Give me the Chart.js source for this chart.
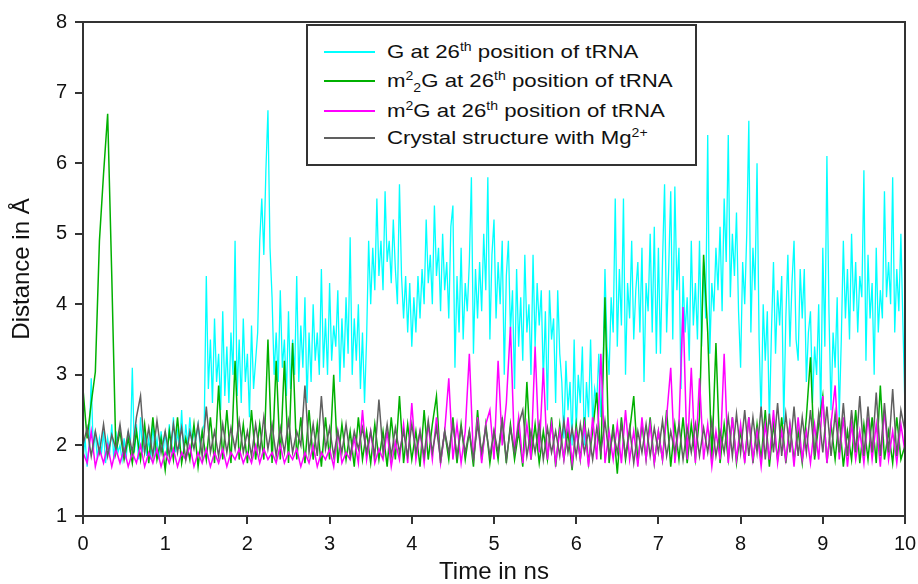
<!DOCTYPE html>
<html>
<head>
<meta charset="utf-8">
<script src="https://cdn.jsdelivr.net/npm/chart.js@4/dist/chart.umd.min.js"></script>
<style>
body { margin: 0; background: #fff; }
#wrap { position: relative; width: 918px; height: 584px; }
#legend { position: absolute; left: 306px; top: 24px; width: 387px; height: 138px; border: 2px solid #333; background: #fff; font-family: "Liberation Sans", Arial, sans-serif; font-size: 19px; color: #111; }
#legend .row { position: absolute; left: 0; height: 24px; width: 100%; }
#legend .swatch { position: absolute; left: 16px; top: 11px; width: 51px; height: 2px; }
#legend .txt { position: absolute; left: 79px; top: 0; line-height: 24px; white-space: nowrap; transform: scaleX(1.17); transform-origin: left center; }
#legend sup, #legend sub { font-size: 12px; line-height: 0; }
</style>
</head>
<body>
<div id="wrap">
<canvas id="chart" width="918" height="584"></canvas>
<div id="legend">
  <div class="row" style="top:14px"><div class="swatch" style="background:#00ffff"></div><div class="txt">G at 26<sup>th</sup> position of tRNA</div></div>
  <div class="row" style="top:43px"><div class="swatch" style="background:#00b000"></div><div class="txt">m<sup>2</sup><sub>2</sub>G at 26<sup>th</sup> position of tRNA</div></div>
  <div class="row" style="top:73px"><div class="swatch" style="background:#ff00ff"></div><div class="txt">m<sup>2</sup>G at 26<sup>th</sup> position of tRNA</div></div>
  <div class="row" style="top:100px"><div class="swatch" style="background:#606060"></div><div class="txt">Crystal structure with Mg<sup>2+</sup></div></div>
</div>
</div>
<script>
// G trace read every 0.025 ns, the other three every 0.05 ns (0 to 10 ns)
var dtFine = 0.025;
var dt = 0.05;
var xTicks = [0, 1, 2, 3, 4, 5, 6, 7, 8, 9, 10];
var yTicks = [1, 2, 3, 4, 5, 6, 7, 8];

var seriesNames = ["G at 26th position of tRNA", "m2,2G at 26th position of tRNA", "m2G at 26th position of tRNA", "Crystal structure with Mg2+"];

var gTrna = [
	1.8, 2.1, 1.7, 2.0, 2.95, 1.9, 2.2, 1.8, 2.1, 1.9, 2.2, 1.75, 2.1, 1.9, 2.3, 1.8, 2.2, 1.9, 2.0, 1.8,
	2.1, 1.8, 2.2, 1.9, 3.1, 1.9, 2.3, 1.8, 2.4, 1.9, 2.2, 1.85, 2.1, 1.8, 2.3, 1.9, 2.1, 1.8, 2.2, 1.9,
	2.2, 1.85, 2.3, 1.9, 2.4, 1.9, 2.2, 1.95, 2.5, 1.9, 2.3, 2.0, 2.4, 2.0, 2.2, 2.1, 2.3, 2.0, 2.2, 2.3,
	4.4, 2.8, 3.5, 2.6, 3.8, 2.9, 3.3, 2.5, 3.9, 2.7, 3.4, 2.6, 3.6, 3.0, 4.9, 2.7, 3.5, 2.6, 3.8, 2.9,
	3.3, 2.4, 3.7, 2.8, 3.2, 3.6, 4.9, 5.5, 4.7, 5.9, 6.75, 4.8, 4.1, 3.0, 3.6, 2.9, 4.2, 3.1, 3.5, 2.7,
	3.9, 2.8, 3.5, 3.0, 4.4, 2.9, 3.7, 3.1, 4.1, 2.6, 3.6, 2.9, 4.0, 3.2, 3.6, 3.0, 4.5, 3.1, 3.8, 3.0,
	4.3, 3.2, 3.7, 3.4, 4.2, 2.9, 3.8, 3.1, 4.1, 3.3, 4.95, 3.0, 3.8, 3.2, 4.0, 2.8, 3.6, 2.6, 3.5, 4.9,
	4.0, 4.8, 4.2, 5.5, 4.4, 4.9, 4.2, 5.6, 4.6, 4.9, 4.3, 5.2, 4.5, 4.0, 5.7, 4.4, 3.8, 4.4, 3.6, 4.3,
	3.4, 4.1, 3.6, 4.4, 3.8, 4.5, 4.0, 5.2, 4.3, 4.7, 4.0, 5.4, 4.4, 4.8, 3.9, 5.0, 4.2, 4.6, 3.8, 5.1,
	5.4, 3.1, 4.4, 3.6, 4.8, 3.5, 4.3, 3.9, 4.6, 5.8, 3.3, 4.5, 3.8, 4.6, 3.9, 5.0, 4.2, 5.8, 3.5, 4.7,
	5.2, 3.8, 4.6, 4.0, 4.9, 3.0, 4.4, 4.9, 3.6, 4.2, 2.8, 4.5, 3.4, 4.1, 3.2, 4.7, 3.6, 4.0, 3.0, 4.7,
	3.4, 4.3, 3.7, 4.2, 2.9, 3.9, 2.5, 4.2, 3.5, 3.8, 2.6, 4.2, 3.3, 2.9, 2.1, 3.2, 2.5, 2.9, 2.0, 3.5,
	2.2, 3.0, 2.6, 3.4, 2.0, 2.9, 2.4, 3.5, 2.3, 2.8, 2.6, 3.3, 2.4, 3.0, 4.5, 3.4, 3.0, 4.1, 3.6, 5.5,
	3.4, 4.5, 3.7, 5.5, 3.0, 4.3, 3.8, 4.9, 3.5, 4.2, 4.6, 3.6, 4.8, 2.9, 4.3, 3.9, 5.0, 3.6, 5.1, 3.3,
	4.8, 3.3, 4.6, 5.7, 3.6, 4.5, 5.6, 3.5, 5.67, 4.2, 4.8, 2.8, 4.4, 3.6, 4.1, 3.2, 4.9, 3.7, 4.3, 3.5,
	4.9, 3.4, 4.6, 3.8, 6.4, 3.3, 4.3, 3.9, 4.8, 4.2, 5.1, 3.9, 5.5, 4.6, 6.4, 4.1, 5.0, 4.4, 5.3, 3.9,
	3.1, 4.6, 4.0, 5.0, 6.6, 3.6, 4.8, 4.2, 6.0, 3.5, 2.4, 4.0, 3.2, 3.9, 2.3, 3.6, 4.6, 3.3, 4.2, 3.7,
	4.4, 2.3, 3.8, 4.7, 3.4, 4.3, 4.9, 3.5, 3.2, 4.5, 3.8, 4.5, 2.9, 3.6, 3.9, 2.6, 3.4, 3.0, 4.0, 2.4,
	4.8, 3.4, 6.1, 3.9, 2.5, 3.6, 3.1, 4.1, 2.4, 3.5, 4.9, 3.8, 4.5, 3.5, 5.0, 3.9, 4.6, 3.6, 4.4, 4.1,
	5.9, 3.2, 4.7, 3.8, 4.3, 3.0, 4.8, 3.6, 4.2, 3.8, 5.6, 4.1, 4.6, 4.0, 5.8, 3.6, 4.5, 3.9, 5.0, 3.7,
	2.5
];

var m22G = [
	2.8, 2.1, 2.6, 3.04, 4.9, 5.85, 6.7, 4.4, 1.9, 2.2,
	1.8, 2.1, 1.75, 2.2, 1.8, 2.3, 1.75, 2.4, 1.8, 2.1,
	1.65, 2.2, 1.8, 2.4, 1.75, 2.1, 1.8, 2.3, 1.7, 2.2,
	1.8, 2.4, 1.75, 2.85, 1.8, 2.5, 1.75, 3.2, 1.8, 2.3,
	1.75, 2.5, 1.8, 2.3, 1.8, 3.5, 1.75, 3.2, 1.8, 3.2,
	1.75, 3.45, 1.8, 2.4, 1.75, 2.5, 1.8, 2.3, 1.7, 2.4,
	1.8, 3.0, 1.75, 2.3, 1.8, 2.2, 1.7, 2.4, 1.8, 2.2,
	1.75, 2.3, 1.8, 2.2, 1.7, 2.4, 1.8, 2.7, 1.75, 2.3,
	1.8, 2.2, 1.7, 2.5, 1.8, 2.3, 2.7, 1.75, 2.2, 1.8,
	2.4, 1.75, 2.3, 1.8, 2.2, 1.7, 2.5, 1.8, 2.3, 1.75,
	2.2, 1.8, 2.4, 1.75, 2.3, 1.8, 2.2, 1.7, 2.9, 1.8,
	2.3, 1.75, 2.2, 1.8, 2.4, 1.7, 2.3, 1.8, 2.2, 1.65,
	2.3, 1.8, 2.4, 1.75, 2.2, 2.75, 1.8, 4.1, 1.75, 2.3,
	1.6, 2.4, 1.8, 2.2, 2.7, 1.75, 2.3, 1.8, 2.4, 1.75,
	2.2, 1.8, 2.5, 1.7, 2.3, 1.8, 2.4, 1.75, 2.3, 1.8,
	2.4, 4.7, 3.6, 1.8, 3.45, 1.75, 2.3, 1.8, 2.4, 1.75,
	2.2, 1.8, 2.4, 1.75, 2.3, 1.8, 2.5, 1.7, 2.3, 1.8,
	2.4, 1.75, 2.3, 1.8, 2.2, 1.75, 2.4, 3.25, 1.8, 2.3,
	2.7, 1.75, 2.3, 1.8, 2.4, 1.7, 2.2, 1.8, 2.5, 1.75,
	2.3, 1.8, 2.4, 1.75, 2.85, 1.8, 2.2, 1.75, 2.4, 1.8,
	2.0
];

var m2G = [
	1.9, 1.75, 2.2, 1.7, 1.95, 1.75, 2.0, 1.7, 1.95, 1.75,
	1.95, 1.7, 1.9, 1.75, 2.0, 1.7, 1.9, 1.75, 1.95, 1.7,
	1.9, 1.75, 1.95, 1.7, 1.9, 1.8, 2.0, 1.7, 1.9, 1.75,
	1.95, 1.7, 1.9, 1.75, 1.95, 1.7, 1.9, 1.8, 1.95, 1.75,
	1.9, 1.75, 2.0, 1.75, 1.95, 1.8, 1.9, 1.75, 2.0, 1.75,
	1.9, 1.8, 1.95, 1.7, 1.9, 1.75, 2.0, 1.7, 1.9, 1.8,
	1.95, 1.7, 2.2, 1.75, 1.9, 1.8, 2.1, 1.75, 2.5, 1.8,
	2.2, 1.75, 1.95, 1.8, 2.2, 1.7, 2.05, 1.8, 2.3, 1.75,
	2.6, 1.8, 2.2, 1.75, 2.3, 1.8, 2.4, 1.75, 2.2, 2.95,
	1.8, 2.3, 1.75, 2.2, 3.3, 1.8, 2.4, 1.75, 2.3, 2.5,
	1.8, 3.2, 2.0, 2.6, 3.68, 1.9, 2.4, 1.75, 2.3, 1.8,
	3.4, 1.9, 3.1, 1.8, 2.3, 1.75, 2.2, 1.8, 2.4, 1.75,
	2.2, 1.8, 2.3, 1.7, 2.4, 1.8, 3.3, 1.75, 2.2, 1.8,
	2.3, 1.75, 2.5, 1.8, 2.2, 1.7, 2.4, 1.8, 2.3, 1.75,
	2.2, 1.8, 2.4, 3.1, 1.75, 2.3, 3.96, 1.8, 3.1, 1.75,
	2.95, 1.8, 2.3, 1.7, 2.2, 1.8, 3.3, 1.75, 2.4, 1.8,
	2.3, 1.75, 2.4, 1.8, 2.2, 1.7, 2.3, 1.8, 2.5, 1.75,
	2.2, 1.8, 2.3, 1.7, 2.4, 1.8, 2.2, 1.75, 2.3, 1.8,
	2.7, 1.75, 2.3, 2.85, 1.8, 2.4, 1.7, 2.3, 1.8, 2.2,
	1.75, 2.4, 1.8, 2.3, 1.7, 2.5, 1.8, 2.2, 1.75, 2.3,
	1.9
];

var crystal = [
	2.0, 2.25, 1.85, 2.2, 1.9, 2.3, 1.85, 2.15, 1.95, 2.3,
	1.85, 2.2, 1.9, 2.4, 2.7, 1.9, 2.25, 1.85, 2.35, 1.9,
	2.2, 1.85, 2.3, 1.9, 2.25, 1.8, 2.2, 1.95, 2.3, 1.85,
	2.55, 1.9, 2.2, 1.85, 2.3, 1.9, 2.25, 1.95, 2.35, 1.9,
	2.2, 1.85, 2.3, 1.9, 2.4, 1.95, 2.3, 1.85, 2.25, 1.9,
	2.35, 1.9, 2.2, 2.0, 2.85, 1.9, 2.3, 1.85, 2.7, 1.95,
	2.25, 1.85, 2.2, 1.9, 2.3, 1.85, 2.2, 1.95, 2.25, 1.9,
	2.2, 1.85, 2.65, 1.9, 2.3, 1.85, 2.25, 1.9, 2.2, 1.85,
	2.3, 1.9, 2.2, 1.85, 2.35, 1.9, 2.25, 1.8, 2.2, 1.9,
	2.3, 1.85, 2.25, 1.9, 2.2, 1.8, 2.3, 1.9, 2.25, 1.85,
	2.2, 1.9, 2.35, 1.8, 2.25, 1.9, 2.3, 2.5, 1.85, 2.2,
	1.9, 2.3, 1.8, 2.25, 1.9, 2.2, 1.85, 2.35, 1.9, 2.25,
	1.85, 2.3, 1.9, 2.2, 1.8, 2.25, 1.9, 2.35, 1.85, 2.2,
	1.9, 2.3, 1.85, 2.25, 1.75, 2.2, 1.9, 2.3, 1.85, 2.25,
	1.9, 2.35, 1.85, 2.2, 1.9, 2.3, 1.8, 2.25, 1.9, 2.3,
	1.85, 2.25, 1.9, 2.35, 1.85, 2.2, 1.9, 2.4, 1.85, 2.45,
	1.9, 2.5, 1.85, 2.4, 1.9, 2.55, 1.8, 2.45, 1.9, 2.6,
	1.85, 2.45, 1.9, 2.55, 1.85, 2.4, 1.9, 2.5, 1.85, 2.45,
	1.9, 2.55, 1.85, 2.45, 1.9, 2.6, 1.85, 2.5, 1.9, 2.7,
	1.85, 2.55, 1.9, 2.75, 1.85, 2.6, 1.9, 2.8, 1.85, 2.5,
	2.2
];

function toPoints(values, step){
	var pts = [];
	for(var i = 0; i < values.length; i++){
		pts.push({x: Math.round(i * step * 1000) / 1000, y: values[i]});
	}
	return pts;
}

function makeSet(label, values, step, color, width, order){
	return {
		label: label,
		data: toPoints(values, step),
		borderColor: color,
		backgroundColor: color,
		borderWidth: width,
		pointRadius: 0,
		tension: 0,
		fill: false,
		order: order
	};
}

var framePlugin = {
	id: 'frame',
	afterDraw: function(chart){
		var a = chart.chartArea, ctx = chart.ctx;
		ctx.save();
		ctx.strokeStyle = '#333';
		ctx.lineWidth = 2;
		ctx.strokeRect(a.left, a.top, a.right - a.left, a.bottom - a.top);
		ctx.restore();
	}
};

var tickFont = {family: '"Liberation Sans", Arial, sans-serif', size: 20};
var titleFont = {family: '"Liberation Sans", Arial, sans-serif', size: 24, lineHeight: 1};

new Chart(document.getElementById('chart'), {
	type: 'line',
	data: {
		datasets: [
			makeSet(seriesNames[0], gTrna, dtFine, '#00ffff', 1.3, 4),
			makeSet(seriesNames[1], m22G, dt, '#00b000', 1.5, 3),
			makeSet(seriesNames[2], m2G, dt, '#ff00ff', 1.5, 2),
			makeSet(seriesNames[3], crystal, dt, '#606060', 1.5, 1)
		]
	},
	options: {
		responsive: false,
		animation: false,
		layout: {padding: {top: 22, right: 13, left: 0, bottom: 0}},
		plugins: {legend: {display: false}, tooltip: {enabled: false}},
		scales: {
			x: {
				type: 'linear', min: 0, max: 10,
				afterBuildTicks: function(s){ s.ticks = xTicks.map(function(v){ return {value: v}; }); },
				afterFit: function(s){ s.height = 68; s.paddingLeft = 0; s.paddingRight = 0; },
				grid: {drawOnChartArea: false, drawTicks: true, tickLength: 8, color: '#333', lineWidth: 2},
				border: {display: true, color: '#333', width: 2},
				ticks: {font: tickFont, color: '#111', padding: 8, maxRotation: 0},
				title: {display: true, text: 'Time in ns', font: titleFont, color: '#111', padding: {top: 0, bottom: 0}}
			},
			y: {
				type: 'linear', min: 1, max: 8,
				afterBuildTicks: function(s){ s.ticks = yTicks.map(function(v){ return {value: v}; }); },
				afterFit: function(s){ s.width = 83; s.paddingTop = 0; s.paddingBottom = 0; },
				grid: {drawOnChartArea: false, drawTicks: true, tickLength: 8, color: '#333', lineWidth: 2},
				border: {display: true, color: '#333', width: 2},
				ticks: {font: tickFont, color: '#111', padding: 8},
				title: {display: true, text: 'Distance in Å', font: titleFont, color: '#111', padding: {top: 10, bottom: 6}}
			}
		}
	},
	plugins: [framePlugin]
});
</script>
</body>
</html>
